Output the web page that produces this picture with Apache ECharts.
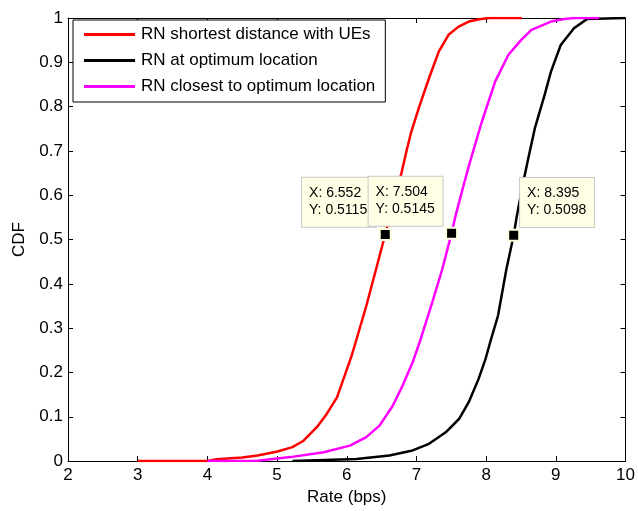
<!DOCTYPE html>
<html>
<head>
<meta charset="utf-8">
<script src="https://cdn.jsdelivr.net/npm/echarts@6/dist/echarts.min.js"></script>
<style>
html,body{margin:0;padding:0;background:#fff;}
#chart{width:638px;height:511px;}
</style>
</head>
<body>
<div id="chart"></div>
<script>
// ---- Data ----
const seriesNames = ['RN shortest distance with UEs', 'RN at optimum location', 'RN closest to optimum location'];

const redRate = [3, 4, 4.13, 4.5, 4.72, 5.005, 5.22, 5.38, 5.57, 5.71, 5.86, 5.97, 6.07, 6.14, 6.28, 6.42, 6.552, 6.65, 6.78, 6.85, 6.92, 7.04, 7.18, 7.32, 7.46, 7.6, 7.75, 7.9, 8.05, 8.51];
const redCdf  = [0, 0, 0.004, 0.008, 0.0126, 0.0216, 0.0315, 0.046, 0.0765, 0.106, 0.144, 0.193, 0.238, 0.275, 0.35, 0.433, 0.5115, 0.575, 0.647, 0.695, 0.74, 0.80, 0.864, 0.924, 0.962, 0.98, 0.992, 0.997, 1, 1];

const blackRate = [5.22, 6.14, 6.61, 6.945, 7.18, 7.42, 7.61, 7.75, 7.89, 7.99, 8.07, 8.17, 8.29, 8.395, 8.44, 8.52, 8.60, 8.70, 8.84, 8.93, 9.07, 9.26, 9.45, 10];
const blackCdf  = [0, 0.005, 0.0126, 0.024, 0.039, 0.065, 0.095, 0.133, 0.185, 0.23, 0.275, 0.328, 0.433, 0.5098, 0.553, 0.62, 0.68, 0.752, 0.827, 0.879, 0.939, 0.977, 0.998, 1];

const magentaRate = [4, 4.3, 4.72, 5.19, 5.67, 6.045, 6.28, 6.47, 6.66, 6.80, 6.945, 7.06, 7.23, 7.37, 7.504, 7.56, 7.66, 7.75, 7.82, 7.94, 8.13, 8.32, 8.5, 8.65, 8.93, 9.1, 9.26, 9.62];
const magentaCdf  = [0, 0.0005, 0.001, 0.009, 0.02, 0.035, 0.054, 0.08, 0.125, 0.17, 0.223, 0.275, 0.36, 0.433, 0.5145, 0.553, 0.613, 0.665, 0.703, 0.767, 0.857, 0.917, 0.95, 0.973, 0.992, 0.997, 1, 1];

// data tips: [x, y]
const tipRed = [6.552, 0.5115];
const tipBlack = [8.395, 0.5098];
const tipMagenta = [7.504, 0.5145];

const xTicks = [2, 3, 4, 5, 6, 7, 8, 9, 10];
const yTicks = [0, 0.1, 0.2, 0.3, 0.4, 0.5, 0.6, 0.7, 0.8, 0.9, 1];

// ---- Chart ----
const FONT = 'Liberation Sans, Arial, sans-serif';
function zip(xs, ys) { return xs.map((x, i) => [x, ys[i]]); }

function tip(pt, pos) {
  return {
    coord: pt,
    symbol: 'rect',
    symbolSize: 11,
    itemStyle: { color: '#000', borderColor: '#ffffe1', borderWidth: 2 },
    label: {
      show: true,
      formatter: 'X: ' + pt[0] + '\nY: ' + pt[1],
      position: pos,
      align: 'left',
      verticalAlign: 'bottom',
      color: '#000',
      fontFamily: FONT,
      fontSize: 14,
      lineHeight: 17,
      width: 61,
      overflow: 'none',
      backgroundColor: '#ffffe6',
      borderColor: '#c8c8c8',
      borderWidth: 1,
      padding: [7, 6, 8, 7]
    }
  };
}

const chart = echarts.init(document.getElementById('chart'), null, { renderer: 'canvas' });
const axisCommon = {
  type: 'value',
  axisLine: { show: true, onZero: false, lineStyle: { color: '#000', width: 1 } },
  axisTick: { show: true, inside: true, length: 5, lineStyle: { color: '#000' } },
  splitLine: { show: false }
};

chart.setOption({
  animation: false,
  backgroundColor: '#fff',
  grid: { left: 68, right: 6, top: 18, bottom: 49, containLabel: false },
  legend: {
    orient: 'vertical',
    left: 73,
    top: 20,
    data: [seriesNames[0], seriesNames[1], seriesNames[2]],
    icon: 'rect',
    itemWidth: 51,
    itemHeight: 3,
    itemGap: 9,
    padding: [6, 10, 7, 11],
    borderColor: '#000',
    borderWidth: 1,
    backgroundColor: '#fff',
    textStyle: { fontFamily: FONT, fontSize: 17, color: '#000', padding: [0, 0, 0, 1] }
  },
  xAxis: [
    Object.assign({}, axisCommon, {
      min: 2, max: 10, interval: 1, position: 'bottom',
      name: 'Rate (bps)', nameLocation: 'middle', nameGap: 26,
      nameTextStyle: { fontFamily: FONT, fontSize: 17, color: '#000' },
      axisLabel: { fontFamily: FONT, fontSize: 17, color: '#000', margin: 6,
        formatter: v => (xTicks.indexOf(v) >= 0 ? String(v) : '') }
    }),
    Object.assign({}, axisCommon, {
      min: 2, max: 10, interval: 1, position: 'top',
      axisLabel: { show: false }
    })
  ],
  yAxis: [
    Object.assign({}, axisCommon, {
      min: 0, max: 1, interval: 0.1, position: 'left',
      name: 'CDF', nameLocation: 'middle', nameGap: 40, nameRotate: 90,
      nameTextStyle: { fontFamily: FONT, fontSize: 17, color: '#000' },
      axisLabel: { fontFamily: FONT, fontSize: 17, color: '#000', margin: 5,
        formatter: v => { const t = yTicks.find(k => Math.abs(k - v) < 1e-9); return t === undefined ? '' : String(t); } }
    }),
    Object.assign({}, axisCommon, {
      min: 0, max: 1, interval: 0.1, position: 'right',
      axisLabel: { show: false }
    })
  ],
  series: [
    {
      name: seriesNames[0], type: 'line', xAxisIndex: 0, yAxisIndex: 0,
      data: zip(redRate, redCdf), symbol: 'none', smooth: false,
      lineStyle: { color: '#ff0000', width: 2.5 }, itemStyle: { color: '#ff0000' },
      markPoint: { animation: false, z: 10, data: [tip(tipRed, [-76.7, -1.1])] }
    },
    {
      name: seriesNames[1], type: 'line', xAxisIndex: 0, yAxisIndex: 0,
      data: zip(blackRate, blackCdf), symbol: 'none', smooth: false,
      lineStyle: { color: '#000000', width: 2.5 }, itemStyle: { color: '#000000' },
      markPoint: { animation: false, z: 10, data: [tip(tipBlack, [12.9, -1.8])] }
    },
    {
      name: seriesNames[2], type: 'line', xAxisIndex: 0, yAxisIndex: 0,
      data: zip(magentaRate, magentaCdf), symbol: 'none', smooth: false,
      lineStyle: { color: '#ff00ff', width: 2.5 }, itemStyle: { color: '#ff00ff' },
      markPoint: { animation: false, z: 11, data: [tip(tipMagenta, [-76.5, -0.8])] }
    }
  ]
});
</script>
</body>
</html>
